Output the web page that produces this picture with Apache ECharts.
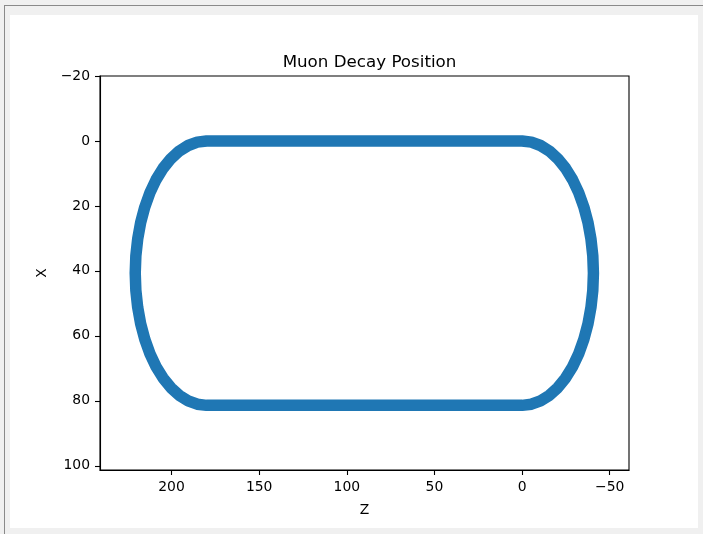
<!DOCTYPE html>
<html>
<head>
<meta charset="utf-8">
<script src="https://cdn.jsdelivr.net/npm/echarts@6/dist/echarts.min.js"></script>
<style>
  html, body { margin: 0; padding: 0; background: #f0f0f0; width: 703px; height: 534px; overflow: hidden; }
  #frame { position: absolute; left: 4px; top: 5px; width: 699px; height: 529px; border-left: 1px solid #8a8a8a; border-top: 1px solid #8a8a8a; box-sizing: border-box; }
  #paper { position: absolute; left: 10px; top: 15px; width: 688px; height: 513px; background: #ffffff; }
  #chart { position: absolute; left: 0; top: 0; width: 703px; height: 534px; }
</style>
</head>
<body>
<div id="frame"></div>
<div id="paper"></div>
<div id="chart"></div>
<script>
// Centre line of the racetrack of decay positions: [Z, X]
const topStraight = [[0, 0], [90, 0], [180, 0]];
const leftArc = [[185.3, 0.35], [190.5, 1.4], [195.6, 3.1], [200.35, 5.45], [204.8, 8.4], [208.8, 11.9],
                 [212.3, 15.9], [215.25, 20.35], [217.6, 25.1], [219.3, 30.2], [220.35, 35.4], [220.7, 40.7],
                 [220.35, 46.0], [219.3, 51.2], [217.6, 56.3], [215.25, 61.05], [212.3, 65.5], [208.8, 69.5],
                 [204.8, 73.0], [200.35, 75.95], [195.6, 78.3], [190.5, 80.0], [185.3, 81.05], [180, 81.4]];
const bottomStraight = [[90, 81.4], [0, 81.4]];
const rightArc = [[-5.3, 81.05], [-10.5, 80.0], [-15.6, 78.3], [-20.35, 75.95], [-24.8, 73.0], [-28.8, 69.5],
                  [-32.3, 65.5], [-35.25, 61.05], [-37.6, 56.3], [-39.3, 51.2], [-40.35, 46.0], [-40.7, 40.7],
                  [-40.35, 35.4], [-39.3, 30.2], [-37.6, 25.1], [-35.25, 20.35], [-32.3, 15.9], [-28.8, 11.9],
                  [-24.8, 8.4], [-20.35, 5.45], [-15.6, 3.1], [-10.5, 1.4], [-5.3, 0.35], [0, 0]];
const zTicks = [200, 150, 100, 50, 0, -50];
const xTicks = [-20, 0, 20, 40, 60, 80, 100];

const ring = [].concat(topStraight, leftArc, bottomStraight, rightArc);
const font = 'DejaVu Sans';

const chart = echarts.init(document.getElementById('chart'), null, { renderer: 'canvas' });
chart.setOption({
  backgroundColor: 'transparent',
  animation: false,
  title: {
    text: 'Muon Decay Position',
    left: 364.5, top: 49, textAlign: 'center',
    textStyle: { fontFamily: font, fontSize: 16.7, fontWeight: 'normal', color: '#000' }
  },
  grid: { left: 100, top: 76, width: 529, height: 394, show: true, borderColor: '#000', borderWidth: 1.1, backgroundColor: 'transparent' },
  xAxis: {
    type: 'value', inverse: true, min: -61, max: 240.8,
    name: 'Z', nameLocation: 'middle', nameGap: 33,
    nameTextStyle: { fontFamily: font, fontSize: 13.9, color: '#000' },
    axisLine: { show: true, onZero: false, lineStyle: { color: '#000', width: 1.1 } },
    axisTick: { show: true, length: 5, customValues: zTicks, lineStyle: { color: '#000', width: 1.1 } },
    axisLabel: { customValues: zTicks, margin: 10, fontFamily: font, fontSize: 13.9, color: '#000',
                 formatter: v => (v < 0 ? '\u2212' + Math.abs(v) : String(v)) },
    splitLine: { show: false }
  },
  yAxis: {
    type: 'value', inverse: true, min: -20, max: 101.3,
    name: 'X', nameLocation: 'middle', nameGap: 50, nameRotate: 90,
    nameTextStyle: { fontFamily: font, fontSize: 13.9, color: '#000' },
    axisLine: { show: true, onZero: false, lineStyle: { color: '#000', width: 1.1 } },
    axisTick: { show: true, length: 5, customValues: xTicks, lineStyle: { color: '#000', width: 1.1 } },
    axisLabel: { customValues: xTicks, margin: 10, fontFamily: font, fontSize: 13.9, color: '#000',
                 formatter: v => (v < 0 ? '\u2212' + Math.abs(v) : String(v)) },
    splitLine: { show: false }
  },
  series: [{
    type: 'line',
    data: ring,
    symbol: 'none',
    smooth: false,
    lineStyle: { color: '#1f77b4', width: 11.5, join: 'round', cap: 'round' }
  }]
});
</script>
</body>
</html>
